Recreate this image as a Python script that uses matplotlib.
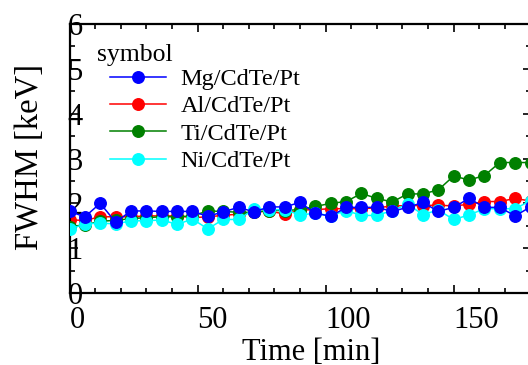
import matplotlib
matplotlib.use("Agg")
import matplotlib.pyplot as plt
from matplotlib.ticker import MultipleLocator

plt.rcParams['font.family'] = ['Liberation Serif', 'DejaVu Serif']

time = [0, 6, 12, 18, 24, 30, 36, 42, 48, 54, 60, 66, 72, 78, 84, 90,
        96, 102, 108, 114, 120, 126, 132, 138, 144, 150, 156, 162, 168, 174, 180]
mg = [1.82, 1.70, 2.00, 1.58, 1.83, 1.83, 1.82, 1.82, 1.82, 1.71, 1.81, 1.91, 1.81, 1.92, 1.92, 2.02,
      1.78, 1.71, 1.91, 1.91, 1.91, 1.82, 1.91, 2.02, 1.82, 1.91, 2.11, 1.91, 1.91, 1.72, 1.92]
al = [1.63, 1.62, 1.70, 1.70, 1.70, 1.72, 1.72, 1.72, 1.68, 1.70, 1.73, 1.76, 1.80, 1.83, 1.76, 1.85,
      1.86, 1.88, 1.88, 1.88, 1.90, 1.94, 1.95, 1.95, 1.96, 1.94, 1.98, 2.04, 2.04, 2.11, 2.05]
ti = [1.48, 1.52, 1.60, 1.62, 1.66, 1.68, 1.70, 1.70, 1.72, 1.83, 1.82, 1.80, 1.80, 1.84, 1.84, 1.86,
      1.93, 2.00, 2.04, 2.22, 2.11, 2.03, 2.21, 2.21, 2.30, 2.61, 2.52, 2.62, 2.91, 2.91, 2.91]
ni = [1.42, 1.54, 1.56, 1.54, 1.61, 1.61, 1.63, 1.53, 1.65, 1.43, 1.64, 1.64, 1.87, 1.86, 1.86, 1.74,
      1.78, 1.72, 1.84, 1.73, 1.73, 1.84, 1.98, 1.75, 1.85, 1.64, 1.74, 1.88, 1.88, 1.88, 2.06]

series = [("Mg/CdTe/Pt", mg, "#0000ff", 5),
          ("Al/CdTe/Pt", al, "#ff0000", 2),
          ("Ti/CdTe/Pt", ti, "#008000", 3),
          ("Ni/CdTe/Pt", ni, "#00ffff", 4)]

W, H = 528, 365
fig = plt.figure(figsize=(W / 100, H / 100), dpi=100)
x0, x1, y0, y1 = 69.5, 530.5, 293, 24
ax = fig.add_axes([x0 / W, (H - y0) / H, (x1 - x0) / W, (y0 - y1) / H])

handles = []
for name, vals, col, z in series:
    h, = ax.plot(time, vals, '-o', color=col, lw=1.1, ms=8.3, label=name, zorder=z, clip_on=True)
    handles.append(h)

ax.set_xlim(0, 180)
ax.set_ylim(0, 6)
ax.xaxis.set_major_locator(MultipleLocator(50))
ax.xaxis.set_minor_locator(MultipleLocator(10))
ax.yaxis.set_major_locator(MultipleLocator(1))
ax.yaxis.set_minor_locator(MultipleLocator(0.5))
for s in ax.spines.values():
    s.set_linewidth(1.6)
ax.tick_params(which='both', direction='in', top=True, right=True, width=1.2)
ax.tick_params(which='major', length=6, labelsize=22)
ax.tick_params(which='minor', length=3.6)
ax.tick_params(axis='y', which='major', pad=-9.5)
ax.tick_params(axis='x', which='major', pad=9)
for lab in ax.get_xticklabels():
    lab.set_horizontalalignment('left')

ax.set_xlabel("Time [min]", fontsize=22)
ax.xaxis.set_label_coords((311 - x0) / (x1 - x0), -0.168)
ax.set_ylabel("FWHM [keV]", fontsize=23.5)
ax.yaxis.set_label_coords((45 - x0) / (x1 - x0), (y0 - 157) / (y0 - y1))

leg = fig.legend(handles=handles, loc='upper left', bbox_to_anchor=(110 / W, 1 - 68 / H),
                 frameon=False, fontsize=17.5, handlelength=2.3, handletextpad=0.6,
                 borderpad=0, borderaxespad=0, labelspacing=0.22)
fig.text(97 / W, 1 - 55 / H, "symbol", fontsize=18.5, ha='left', va='center')

fig.savefig("out.png", dpi=100)
